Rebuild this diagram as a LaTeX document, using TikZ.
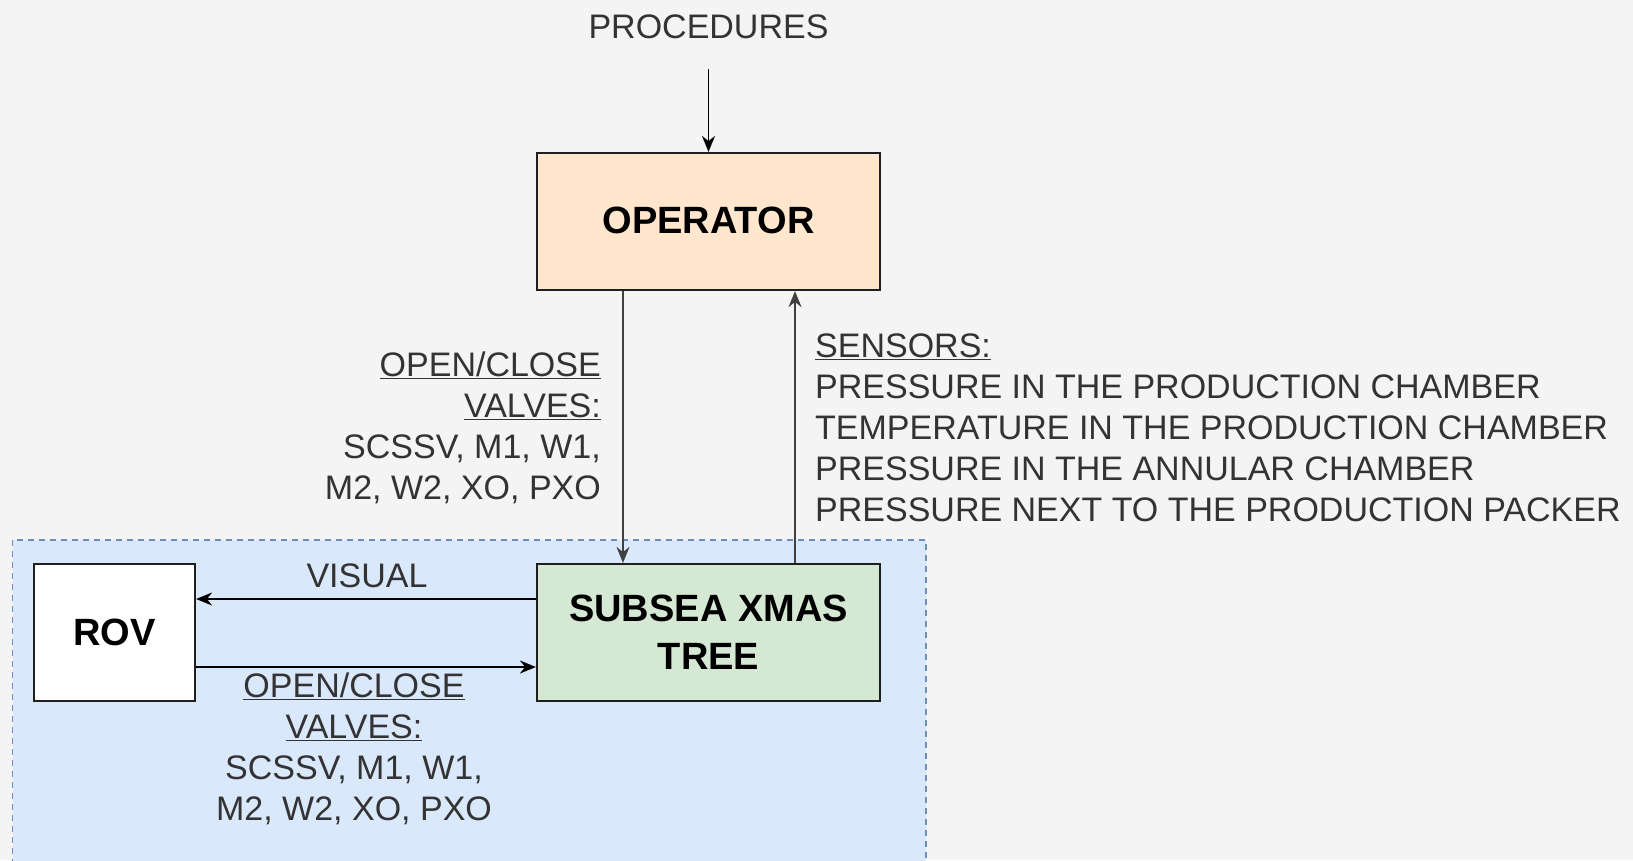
\documentclass[tikz,border=0pt]{standalone}
\usepackage{fontspec}
\setmainfont{Liberation Sans}
\usetikzlibrary{arrows.meta}
\definecolor{bgc}{HTML}{F4F4F4}
\definecolor{bluefill}{HTML}{DAE8FC}
\definecolor{blueline}{HTML}{6C8EBF}
\definecolor{orangefill}{HTML}{FFE6CC}
\definecolor{greenfill}{HTML}{D5E8D4}
\definecolor{txtgray}{HTML}{333333}
\definecolor{boxline}{HTML}{1F1F1F}
\definecolor{arrgray}{HTML}{404040}
\tikzset{
  box/.style={draw=boxline, line width=2.2pt, inner sep=0pt, align=center,
    font=\fontsize{38}{48}\selectfont\bfseries},
  lbl/.style={text=txtgray, inner sep=0pt, font=\fontsize{34}{41}\selectfont},
  arr/.style={-{Stealth[length=16pt,width=13pt]}, line width=1.8pt},
}
\begin{document}
\begin{tikzpicture}[x=1pt,y=-1pt]
\useasboundingbox (0,0) rectangle (1633,860);
\fill[bgc] (0,0) rectangle (1633,860);
% blue region
\draw[fill=bluefill, draw=blueline, line width=1.3pt, dash pattern=on 6pt off 5pt]
  (12.5,540) rectangle (926,880);
% boxes
\node[box, fill=orangefill, minimum width=343pt, minimum height=137pt] (op) at (708.5,221.5) {\raisebox{3pt}{OPERATOR}};
\node[box, fill=greenfill, minimum width=343pt, minimum height=137pt] (tree) at (708.5,632.5) {SUBSEA XMAS\\TREE};
\node[box, fill=white, minimum width=161pt, minimum height=137pt] (rov) at (114.5,632.5) {ROV};
% top label
\node[lbl] (proc) at (708.5,27) {PROCEDURES};
\coordinate (procend) at (708.5,69);
\draw[arr, black] (procend) -- (op.north);
% operator <-> tree
\draw[arr, arrgray] ([xshift=-85.5pt]op.south) -- ([xshift=-85.5pt]tree.north);
\draw[arr, arrgray] ([xshift=86.5pt]tree.north) -- ([xshift=86.5pt]op.south);
% labels
\node[lbl, align=right, anchor=east] (cmdlbl) at (601,428)
  {\underline{OPEN/CLOSE}\\\underline{VALVES:}\\SCSSV, M1, W1,\\M2, W2, XO, PXO};
\node[lbl, align=left, anchor=west] (senslbl) at (815,428)
  {\underline{SENSORS:}\\PRESSURE IN THE PRODUCTION CHAMBER\\TEMPERATURE IN THE PRODUCTION CHAMBER\\PRESSURE IN THE ANNULAR CHAMBER\\PRESSURE NEXT TO THE PRODUCTION PACKER};
% tree <-> rov
\draw[arr, black] ([yshift=33.5pt]tree.west) -- ([yshift=33.5pt]rov.east);
\draw[arr, black] ([yshift=-34.5pt]rov.east) -- ([yshift=-34.5pt]tree.west);
\node[lbl] (vislbl) at (367,576) {VISUAL};
\node[lbl, align=center] (rovlbl) at (354,749)
  {\underline{OPEN/CLOSE}\\\underline{VALVES:}\\SCSSV, M1, W1,\\M2, W2, XO, PXO};
\end{tikzpicture}
\end{document}
